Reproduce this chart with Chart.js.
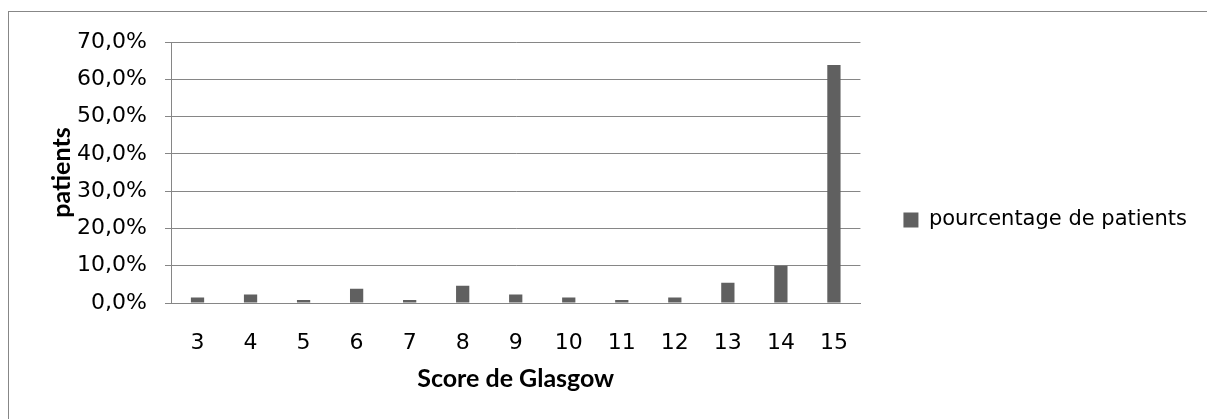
<!DOCTYPE html>
<html>
<head>
<meta charset="utf-8">
<title>Score de Glasgow</title>
<script src="https://cdn.jsdelivr.net/npm/chart.js@4"></script>
<style>
  html, body { margin: 0; padding: 0; background: #ffffff; overflow: hidden; }
  #wrap { position: relative; width: 1207px; height: 419px; overflow: hidden; }
  #frame { position: absolute; left: 8px; top: 11px; width: 1300px; height: 500px;
           border-left: 1px solid #878787; border-top: 1px solid #878787; }
  #c { position: absolute; left: 0; top: 0; }
</style>
</head>
<body>
<div id="wrap">
  <div id="frame"></div>
  <canvas id="c" width="1207" height="419"></canvas>
</div>
<script>
// Glasgow coma score categories
const scores = ['3', '4', '5', '6', '7', '8', '9', '10', '11', '12', '13', '14', '15'];
// share of patients per score, in percent
const patientShare = [1.5, 2.3, 0.8, 3.8, 0.8, 4.6, 2.3, 1.5, 0.8, 1.5, 5.4, 10.0, 63.8];
// value axis ticks, in percent
const yTicks = [0, 10, 20, 30, 40, 50, 60, 70];
const seriesName = 'pourcentage de patients';
const xTitle = 'Score de Glasgow';
const yTitle = 'patients';

const AXIS_GREY = '#868686';
const BAR_GREY = '#606060';
const TICK_FONT = { family: '"DejaVu Sans", sans-serif', size: 22, weight: 'normal' };
const LEGEND_FONT = { family: '"DejaVu Sans", sans-serif', size: 21, weight: 'normal' };
const BOLD_FONT = { family: 'Lato, sans-serif', size: 25, weight: 'bold' };

function pct(v) {
  return v.toFixed(1).replace('.', ',') + '%';
}

function draw() {
  new Chart(document.getElementById('c'), {
    type: 'bar',
    data: {
      labels: scores,
      datasets: [{
        label: seriesName,
        data: patientShare,
        backgroundColor: BAR_GREY,
        borderWidth: 0,
        barPercentage: 0.25,
        categoryPercentage: 1.0
      }]
    },
    options: {
      responsive: false,
      animation: false,
      devicePixelRatio: 1,
      layout: { padding: { left: 0, top: 42, right: 10, bottom: 21 } },
      plugins: {
        tooltip: { enabled: false },
        legend: {
          display: true,
          position: 'right',
          align: 'center',
          maxWidth: 420,
          labels: {
            boxWidth: 15,
            boxHeight: 15,
            padding: 43,
            color: '#000000',
            font: LEGEND_FONT
          }
        }
      },
      scales: {
        x: {
          grid: { display: false },
          border: { display: true, color: AXIS_GREY, width: 1 },
          ticks: { color: '#000000', font: TICK_FONT, padding: 19, maxRotation: 0, autoSkip: false },
          title: { display: true, text: xTitle, color: '#000000', font: BOLD_FONT, padding: { top: 0, bottom: 4 } },
          afterFit: (scale) => { scale.height = 95; }
        },
        y: {
          min: 0,
          max: 70,
          afterBuildTicks: (scale) => { scale.ticks = yTicks.map(v => ({ value: v })); },
          grid: { color: AXIS_GREY, lineWidth: 1, drawTicks: true, tickLength: 6 },
          border: { display: true, color: AXIS_GREY, width: 1 },
          ticks: { color: '#000000', font: TICK_FONT, padding: 18, callback: (v) => pct(v) },
          title: { display: true, text: yTitle, color: '#000000', font: BOLD_FONT, padding: { top: 47, bottom: 0 } },
          afterFit: (scale) => { scale.width = 171; }
        }
      }
    }
  });
}

if (document.fonts && document.fonts.load) {
  Promise.all([
    document.fonts.load('22px "DejaVu Sans"'),
    document.fonts.load('bold 25px Lato')
  ]).then(draw, draw);
} else {
  draw();
}
</script>
</body>
</html>
